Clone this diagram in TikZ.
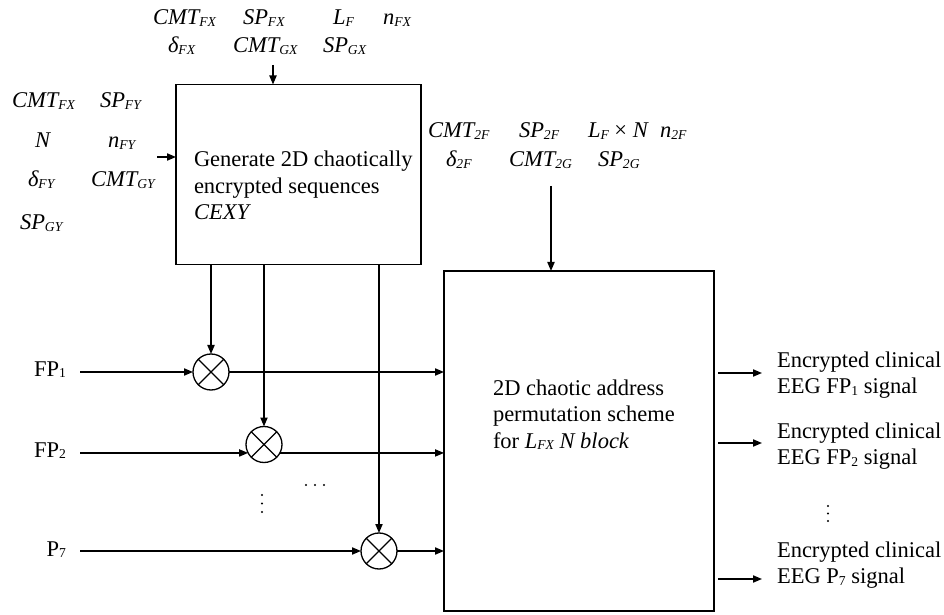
\documentclass[tikz,border=0pt]{standalone}
\usepackage{fontspec}
\setmainfont{Liberation Serif}
\usetikzlibrary{arrows.meta}
\newcommand\mysub[1]{\raisebox{-0.8pt}{\fontsize{6.8}{7}\selectfont #1}}
\tikzset{
  lbl/.style={inner sep=0pt, outer sep=0pt, anchor=base west},
  rlbl/.style={inner sep=0pt, outer sep=0pt, anchor=base east},
  box/.style={draw, line width=0.7pt, inner sep=0pt, outer sep=0pt},
  arr/.style={-{Triangle[length=4.5pt,width=3.6pt]}, line width=0.65pt},
  mult/.style={circle, draw, line width=0.65pt, minimum size=18pt, inner sep=0pt, outer sep=0pt,
    path picture={\draw[line width=0.65pt]
      (path picture bounding box.north west) -- (path picture bounding box.south east)
      (path picture bounding box.north east) -- (path picture bounding box.south west);}},
  dotmark/.style={fill=black, draw=none}
}
\begin{document}
\begin{tikzpicture}[x=0.5pt, y=-0.5pt, font=\fontsize{11.25}{13.25}\selectfont]
\useasboundingbox (0,0) rectangle (944,615);

% boxes
\node[box, minimum width=122.5pt, minimum height=90pt] (b1) at (298.5,174.5) {};
\node[box, minimum width=135pt, minimum height=170pt] (b2) at (579,441) {};

% box texts
\node[lbl] (t1) at (194,167) {\begin{tabular}[t]{@{}l@{}}Generate 2D chaotically\\encrypted sequences\\\textit{CEXY}\end{tabular}};
\node[lbl] (t2) at (493,395) {\begin{tabular}[t]{@{}l@{}}2D chaotic address\\permutation scheme\\for \textit{L\mysub{FX} N block}\end{tabular}};

% top parameters
\node[lbl] (p1) at (153,25) {\itshape CMT\mysub{FX}};
\node[lbl] (p2) at (243,25) {\itshape SP\mysub{FX}};
\node[lbl] (p3) at (333,25) {\itshape L\mysub{F}};
\node[lbl] (p4) at (383,25) {\itshape n\mysub{FX}};
\node[lbl] (p5) at (168,53) {\itshape δ\mysub{FX}};
\node[lbl] (p6) at (233,53) {\itshape CMT\mysub{GX}};
\node[lbl] (p7) at (323,53) {\itshape SP\mysub{GX}};

% left parameters
\node[lbl] (q1) at (12,108) {\itshape CMT\mysub{FX}};
\node[lbl] (q2) at (100,108) {\itshape SP\mysub{FY}};
\node[lbl] (q3) at (35,148) {\itshape N};
\node[lbl] (q4) at (108,148) {\itshape n\mysub{FY}};
\node[lbl] (q5) at (28,187) {\itshape δ\mysub{FY}};
\node[lbl] (q6) at (91,187) {\itshape CMT\mysub{GY}};
\node[lbl] (q7) at (20,230) {\itshape SP\mysub{GY}};

% middle parameters
\node[lbl] (r1) at (428,138) {\itshape CMT\mysub{2F}};
\node[lbl] (r2) at (519,138) {\itshape SP\mysub{2F}};
\node[lbl] (r3) at (588,138) {\itshape L\mysub{F}\upshape{} × \itshape N};
\node[lbl] (r4) at (660,138) {\itshape n\mysub{2F}};
\node[lbl] (r5) at (446,167) {\itshape δ\mysub{2F}};
\node[lbl] (r6) at (509,167) {\itshape CMT\mysub{2G}};
\node[lbl] (r7) at (598,167) {\itshape SP\mysub{2G}};

% parameter arrows
\coordinate (topin) at (273,65);
\coordinate (leftin) at (157,157);
\coordinate (midin) at (551,186);
\draw[arr] (topin) -- (topin |- b1.north);
\draw[arr] (leftin) -- (leftin -| b1.west);
\draw[arr] (midin) -- (midin |- b2.north);

% multipliers
\node[mult] (m1) at (211,372) {};
\node[mult] (m2) at (264,444.5) {};
\node[mult] (m3) at (379,551) {};

% inputs
\node[rlbl] (fp1) at (66,376) {FP\mysub{1}};
\node[rlbl] (fp2) at (66,457) {FP\mysub{2}};
\node[rlbl] (p7in) at (66,556) {P\mysub{7}};
\coordinate (in1) at (80,372);
\coordinate (in2) at (80,453);
\coordinate (in3) at (80,551);

\draw[arr] (in1) -- (m1.west);
\draw[arr] (in2 |- m2.208) -- (m2.208);
\draw[arr] (in3) -- (m3.west);
\draw[arr] (m1.east) -- (b2.west |- m1);
\draw[arr] (m2.-28) -- (b2.west |- m2.-28);
\draw[arr] (m3.east) -- (b2.west |- m3);

% sequences down to multipliers
\draw[arr] (b1.south -| m1) -- (m1.north);
\draw[arr] (b1.south -| m2) -- (m2.north);
\draw[arr] (b1.south -| m3) -- (m3.north);

% dots
\foreach \yy in {495,503.5,512} \fill[dotmark] (262,\yy) circle (0.6pt);
\foreach \xx in {306,315,324} \fill[dotmark] (\xx,485) circle (0.55pt);
\foreach \yy in {506,513.5,521} \fill[dotmark] (828,\yy) circle (0.6pt);

% outputs
\coordinate (o1) at (762,373);
\coordinate (o2) at (762,443);
\coordinate (o3) at (762,579);
\draw[arr] ([xshift=2pt]b2.east |- o1) -- (o1);
\draw[arr] ([xshift=2pt]b2.east |- o2) -- (o2);
\draw[arr] ([xshift=2pt]b2.east |- o3) -- (o3);
\node[lbl] (e1) at (777,367) {\begin{tabular}[t]{@{}l@{}}Encrypted clinical\\EEG FP\mysub{1} signal\end{tabular}};
\node[lbl] (e2) at (777,438) {\begin{tabular}[t]{@{}l@{}}Encrypted clinical\\EEG FP\mysub{2} signal\end{tabular}};
\node[lbl] (e3) at (777,557) {\begin{tabular}[t]{@{}l@{}}Encrypted clinical\\EEG P\mysub{7} signal\end{tabular}};
\end{tikzpicture}
\end{document}
